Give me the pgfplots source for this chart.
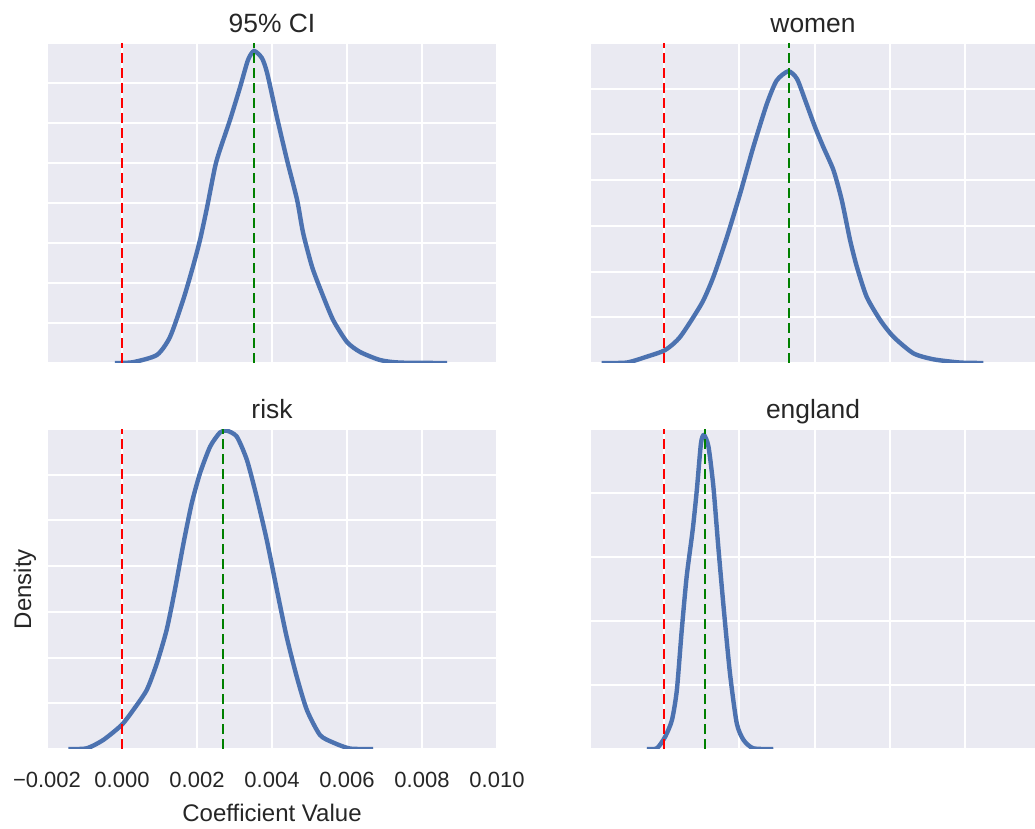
\documentclass[border=0pt]{standalone}
\usepackage{fontspec}
\setmainfont{Liberation Sans}
\usepackage{pgfplots}
\pgfplotsset{compat=1.18}

\definecolor{sbg}{HTML}{EAEAF2}
\definecolor{sblue}{HTML}{4C72B0}
\definecolor{stext}{HTML}{262626}
\definecolor{sgreen}{HTML}{008000}

\pgfplotsset{
  every axis title shift=0pt,
  kde/.style={
    scale only axis, height=160bp, ymin=0, ytick distance=1,
    axis background/.style={fill=sbg},
    axis line style={draw=none}, tick style={draw=none},
    grid=major, major grid style={draw=white, line width=1bp},
    xtick={-0.002,0,0.002,0.004,0.006,0.008,0.010},
    xticklabels={}, yticklabels={},
    scaled x ticks=false, scaled y ticks=false,
    title style={at={(0.5,1)}, anchor=base, yshift=5.2bp,
      font=\fontsize{13.2bp}{15bp}\selectfont, text=stext},
    xticklabel style={anchor=base, yshift=-19.5bp,
      font=\fontsize{11bp}{13bp}\selectfont, text=stext},
    label style={font=\fontsize{12bp}{14bp}\selectfont, text=stext},
  },
  kdeline/.style={sblue, line width=2.2bp, smooth, tension=0.4},
  zero/.style={red, line width=1bp, dash pattern=on 5bp off 2.5bp},
  mean/.style={sgreen, line width=1bp, dash pattern=on 5bp off 2.5bp},
  left col/.style={width=225bp, xmin=-0.002, xmax=0.010},
  right col/.style={width=222bp, xmin=-0.00194, xmax=0.00985},
}

\begin{document}
\begin{tikzpicture}
\useasboundingbox (0,0) rectangle (517.5bp,414.5bp);

% 95% CI
\begin{axis}[kde, left col, ymax=8, at={(23.5bp,233bp)}, anchor=south west,
  title={95\% CI}]
\addplot[kdeline] coordinates {
(-0.00019,0) (0.00029,0.02) (0.00093,0.2) (0.00128,0.65) (0.00163,1.575)
(0.00189,2.4) (0.00208,3.075) (0.00227,3.9) (0.00248,4.9) (0.00261,5.325)
(0.00288,6.075) (0.00315,6.9) (0.00336,7.575) (0.00352,7.8) (0.00373,7.625)
(0.00387,7.25) (0.00413,6.15) (0.0044,5.075) (0.00467,4.075) (0.00483,3.25)
(0.00507,2.4) (0.00533,1.75) (0.00563,1.075) (0.006,0.525) (0.00635,0.275)
(0.00688,0.075) (0.00741,0.01) (0.00867,0)};
\addplot[zero] coordinates {(0,0) (0,8)};
\addplot[mean] coordinates {(0.00352,0) (0.00352,8)};
\end{axis}

% women
\begin{axis}[kde, right col, ymax=7, at={(295.5bp,233bp)}, anchor=south west,
  title={women}]
\addplot[kdeline] coordinates {
(-0.00166,0) (-0.00099,0.01) (-0.00046,0.138) (0.00003,0.284) (0.00043,0.574)
(0.001,1.303) (0.00131,1.884) (0.00167,2.758) (0.00202,3.705) (0.00237,4.723)
(0.00273,5.67) (0.00299,6.179) (0.0033,6.382) (0.00353,6.216) (0.00375,5.742)
(0.00401,5.159) (0.00423,4.723) (0.0045,4.214) (0.00472,3.559) (0.00494,2.686)
(0.00512,2.103) (0.00538,1.448) (0.00574,0.939) (0.00609,0.574) (0.00662,0.212)
(0.00715,0.081) (0.00786,0.01) (0.00848,0)};
\addplot[zero] coordinates {(0,0) (0,7)};
\addplot[mean] coordinates {(0.00333,0) (0.00333,7)};
\end{axis}

% risk
\begin{axis}[kde, left col, ymax=7, at={(23.5bp,40bp)}, anchor=south west,
  title={risk},
  xticklabels={−0.002,0.000,0.002,0.004,0.006,0.008,0.010},
  xlabel={Coefficient Value}, ylabel={Density},
  xlabel style={at={(axis description cs:0.5,-0.2)}, anchor=center},
  ylabel style={at={(axis description cs:-0.049,0.5)}, anchor=center}]
\addplot[kdeline] coordinates {
(-0.00143,0) (-0.00094,0.015) (-0.0005,0.197) (-0.00001,0.525) (0.0003,0.853)
(0.00066,1.291) (0.00093,1.875) (0.00119,2.604) (0.00141,3.479) (0.00164,4.501)
(0.00186,5.376) (0.00208,6.032) (0.00235,6.615) (0.00261,6.921) (0.00279,6.965)
(0.00306,6.834) (0.00333,6.324) (0.00359,5.521) (0.00386,4.573) (0.00413,3.479)
(0.00439,2.457) (0.00466,1.582) (0.00493,0.853) (0.00528,0.306) (0.00564,0.138)
(0.00608,0.01) (0.0067,0)};
\addplot[zero] coordinates {(0,0) (0,7)};
\addplot[mean] coordinates {(0.00268,0) (0.00268,7)};
\end{axis}

% england
\begin{axis}[kde, right col, ymax=5, at={(295.5bp,40bp)}, anchor=south west,
  title={england}]
\addplot[kdeline] coordinates {
(-0.00046,0) (-0.00019,0.011) (0.00003,0.192) (0.00021,0.453) (0.00034,0.922)
(0.00047,1.859) (0.0006,2.692) (0.00076,3.422) (0.00087,4.047) (0.00098,4.776)
(0.00106,4.906) (0.00118,4.723) (0.00131,4.098) (0.00144,3.161) (0.00158,2.223)
(0.00175,1.183) (0.00193,0.402) (0.00211,0.141) (0.00237,0.011) (0.0029,0)};
\addplot[zero] coordinates {(0,0) (0,5)};
\addplot[mean] coordinates {(0.00109,0) (0.00109,5)};
\end{axis}
\end{tikzpicture}
\end{document}
